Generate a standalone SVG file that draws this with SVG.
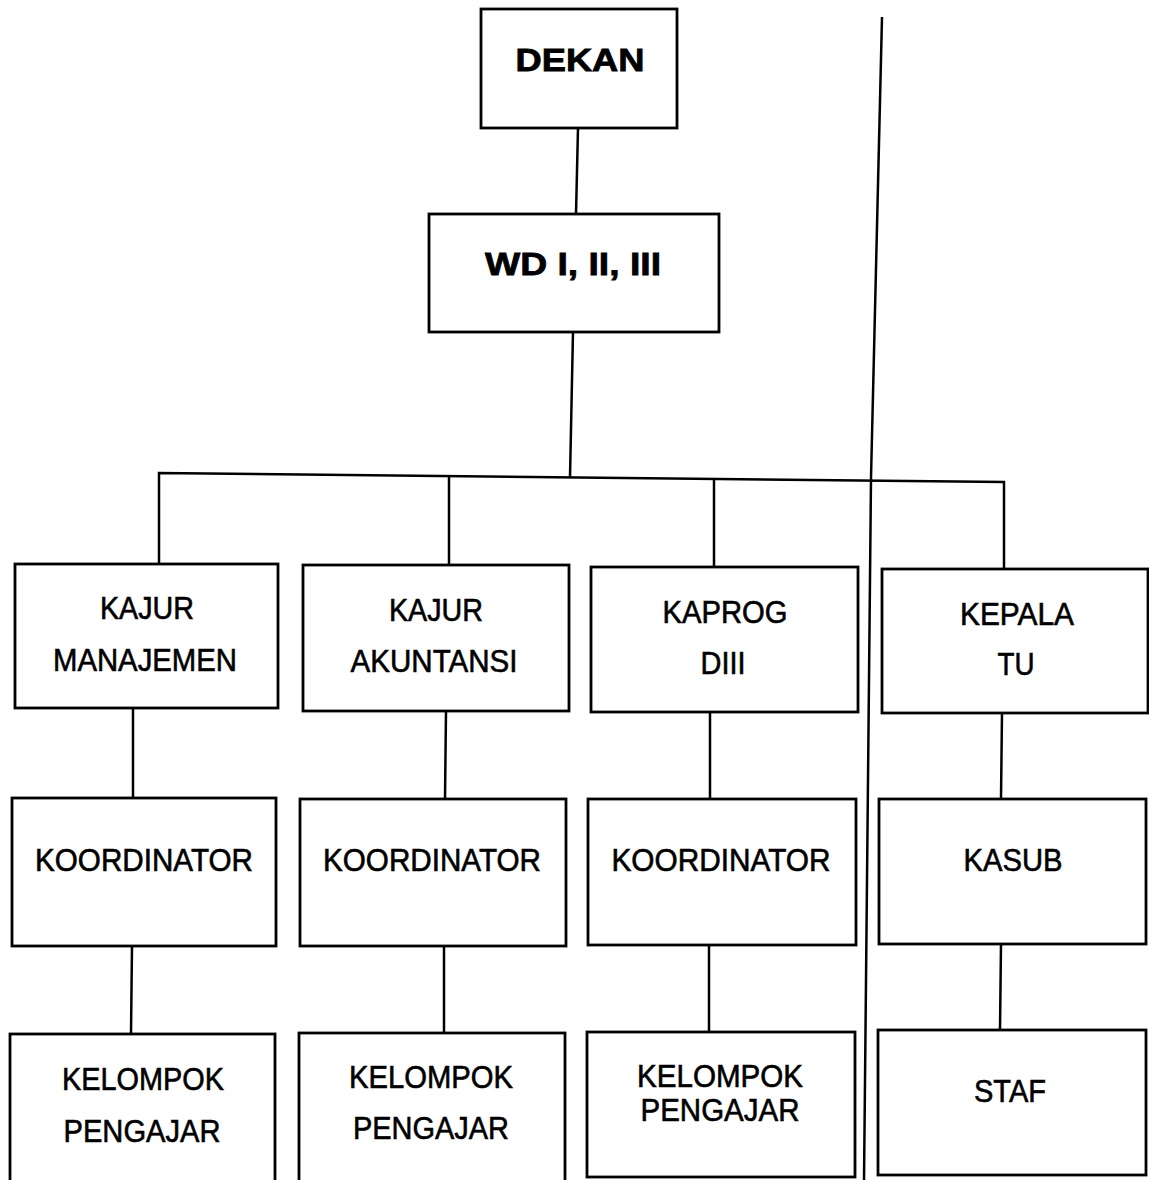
<svg xmlns="http://www.w3.org/2000/svg" width="1149" height="1180" viewBox="0 0 1149 1180">
<style>
.box{fill:#fff;stroke:#000;stroke-width:2.8}
.ln{fill:none;stroke:#000;stroke-width:2.5}
text{font-family:"Liberation Sans",Arial,sans-serif;font-size:31px;fill:#000;stroke:#000;stroke-width:0.6;text-anchor:middle}
.b{font-weight:bold;font-size:32px;stroke-width:0.8}
</style>
<rect width="1149" height="1180" fill="#fff"/>
<g id="connectors">
<line class="ln" x1="578" y1="128" x2="576" y2="214"/>
<line class="ln" x1="573" y1="332" x2="570" y2="477"/>
<polyline class="ln" points="159,564 159,473 1004,482 1004,569"/>
<line class="ln" x1="449" y1="476" x2="449" y2="565"/>
<line class="ln" x1="714" y1="478" x2="714" y2="567"/>
<line class="ln" x1="133" y1="707" x2="133" y2="798"/>
<line class="ln" x1="446" y1="711" x2="445" y2="799"/>
<line class="ln" x1="710" y1="712" x2="710" y2="799"/>
<line class="ln" x1="1002" y1="713" x2="1001" y2="799"/>
<line class="ln" x1="132" y1="946" x2="131" y2="1034"/>
<line class="ln" x1="444" y1="946" x2="444" y2="1033"/>
<line class="ln" x1="709" y1="945" x2="709" y2="1032"/>
<line class="ln" x1="1001" y1="944" x2="1000" y2="1030"/>
<polyline class="ln" points="882,17 871,478 864,1182"/>
</g>
<g id="dekan"><rect class="box" x="481" y="9" width="196" height="119"/><text class="b" x="580" y="71" textLength="129" lengthAdjust="spacingAndGlyphs">DEKAN</text></g>
<g id="wd"><rect class="box" x="429" y="214" width="290" height="118"/><text class="b" x="573" y="275" textLength="176" lengthAdjust="spacingAndGlyphs">WD I, II, III</text></g>
<g id="kajur-manajemen"><rect class="box" x="15" y="564" width="263" height="144"/><text x="147" y="619" textLength="94" lengthAdjust="spacingAndGlyphs">KAJUR</text><text x="145" y="671" textLength="184" lengthAdjust="spacingAndGlyphs">MANAJEMEN</text></g>
<g id="kajur-akuntansi"><rect class="box" x="303" y="565" width="266" height="146"/><text x="436" y="621" textLength="94" lengthAdjust="spacingAndGlyphs">KAJUR</text><text x="434" y="672" textLength="167" lengthAdjust="spacingAndGlyphs">AKUNTANSI</text></g>
<g id="kaprog-diii"><rect class="box" x="591" y="567" width="267" height="145"/><text x="725" y="623" textLength="125" lengthAdjust="spacingAndGlyphs">KAPROG</text><text x="723" y="674" textLength="45" lengthAdjust="spacingAndGlyphs">DIII</text></g>
<g id="kepala-tu"><rect class="box" x="882" y="569" width="266" height="144"/><text x="1017" y="625" textLength="114" lengthAdjust="spacingAndGlyphs">KEPALA</text><text x="1016" y="675" textLength="37" lengthAdjust="spacingAndGlyphs">TU</text></g>
<g id="koordinator-1"><rect class="box" x="12" y="798" width="264" height="148"/><text x="144" y="871" textLength="218" lengthAdjust="spacingAndGlyphs">KOORDINATOR</text></g>
<g id="koordinator-2"><rect class="box" x="300" y="799" width="266" height="147"/><text x="432" y="871" textLength="218" lengthAdjust="spacingAndGlyphs">KOORDINATOR</text></g>
<g id="koordinator-3"><rect class="box" x="588" y="799" width="268" height="146"/><text x="721" y="871" textLength="219" lengthAdjust="spacingAndGlyphs">KOORDINATOR</text></g>
<g id="kasub"><rect class="box" x="879" y="799" width="267" height="145"/><text x="1013" y="871" textLength="99" lengthAdjust="spacingAndGlyphs">KASUB</text></g>
<g id="kelompok-1"><rect class="box" x="10" y="1034" width="265" height="150"/><text x="143" y="1090" textLength="162" lengthAdjust="spacingAndGlyphs">KELOMPOK</text><text x="142" y="1142" textLength="157" lengthAdjust="spacingAndGlyphs">PENGAJAR</text></g>
<g id="kelompok-2"><rect class="box" x="299" y="1033" width="266" height="150"/><text x="431" y="1088" textLength="164" lengthAdjust="spacingAndGlyphs">KELOMPOK</text><text x="431" y="1139" textLength="156" lengthAdjust="spacingAndGlyphs">PENGAJAR</text></g>
<g id="kelompok-3"><rect class="box" x="587" y="1032" width="268" height="145"/><text x="720" y="1087" textLength="166" lengthAdjust="spacingAndGlyphs">KELOMPOK</text><text x="720" y="1121" textLength="159" lengthAdjust="spacingAndGlyphs">PENGAJAR</text></g>
<g id="staf"><rect class="box" x="878" y="1030" width="268" height="145"/><text x="1010" y="1102" textLength="72" lengthAdjust="spacingAndGlyphs">STAF</text></g>
</svg>
